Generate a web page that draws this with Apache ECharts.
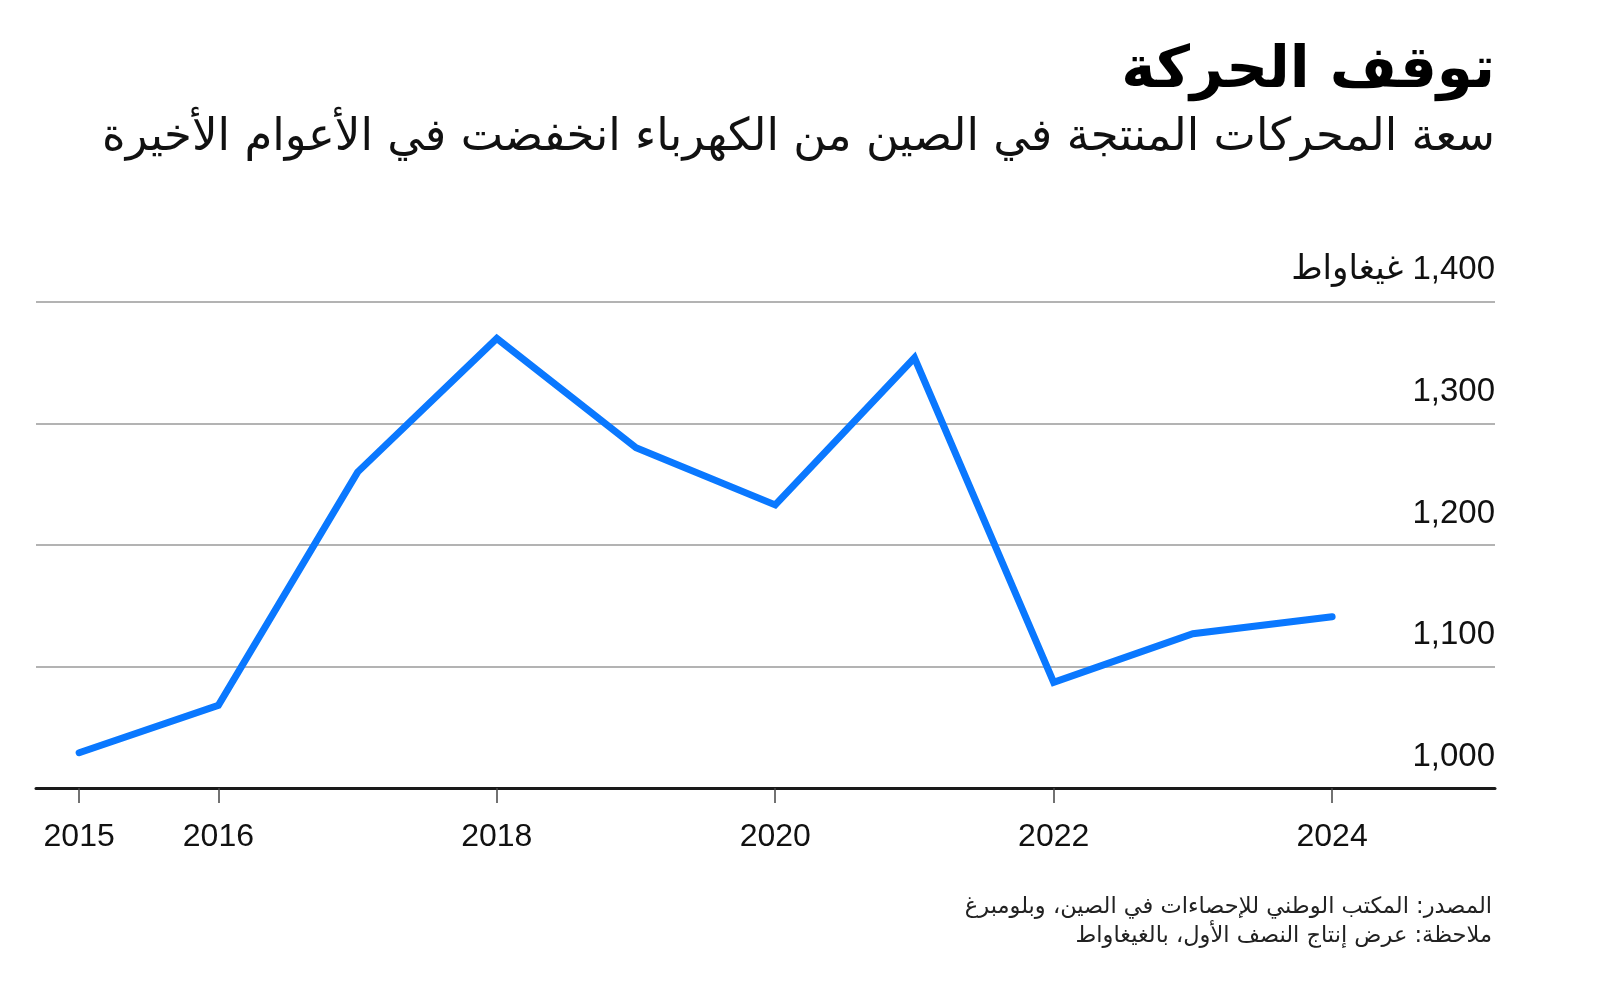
<!DOCTYPE html>
<html>
<head>
<meta charset="utf-8">
<script src="https://cdn.jsdelivr.net/npm/echarts@6/dist/echarts.min.js"></script>
<style>
html,body{margin:0;padding:0;background:#fff;}
#chart{width:1600px;height:1007px;}
</style>
</head>
<body>
<div id="chart"></div>
<script>
const years = [2015, 2016, 2017, 2018, 2019, 2020, 2021, 2022, 2023, 2024];
const capacity = [1029, 1068, 1260, 1370, 1280, 1233, 1354, 1087, 1127, 1141];
const xTickLabels = [2015, 2016, 2018, 2020, 2022, 2024];
const yTickValues = [1000, 1100, 1200, 1300, 1400];
const unitLabel = 'غيغاواط';
const titleText = 'توقف الحركة';
const subtitleText = 'سعة المحركات المنتجة في الصين من الكهرباء انخفضت في الأعوام الأخيرة';
const sourceText = 'المصدر: المكتب الوطني للإحصاءات في الصين، وبلومبرغ';
const noteText = 'ملاحظة: عرض إنتاج النصف الأول، بالغيغاواط';

const arabicFont = '"DejaVu Sans", "Noto Sans", sans-serif';
const numFont = '"Liberation Sans", Arial, sans-serif';

const chart = echarts.init(document.getElementById('chart'));
const fmtNum = v => v.toLocaleString('en-US');

chart.setOption({
  backgroundColor: '#fff',
  animation: false,
  grid: { left: 36, right: 105, top: 302, bottom: 219, containLabel: false },
  xAxis: {
    type: 'value',
    min: 2014.69,
    max: 2025.17,
    splitLine: { show: false },
    axisLine: { show: true, lineStyle: { color: '#1a1a1a', width: 3 } },
    axisTick: { show: true, customValues: xTickLabels, length: 15, lineStyle: { color: '#444', width: 1.5 } },
    axisLabel: {
      customValues: xTickLabels,
      formatter: v => String(v),
      fontSize: 32, color: '#111', fontFamily: numFont, margin: 33
    }
  },
  yAxis: {
    type: 'value',
    position: 'right',
    min: 1000, max: 1400, interval: 100,
    axisLine: { show: false },
    axisTick: { show: false },
    splitLine: { show: true, lineStyle: { color: '#b3b3b3', width: 2 } },
    axisLabel: {
      inside: true,
      margin: 0,
      verticalAlign: 'bottom',
      padding: [0, 0, 15, 0],
      fontSize: 33, color: '#111', fontFamily: numFont,
      formatter: v => v === yTickValues[yTickValues.length - 1] ? '{u|' + unitLabel + '} ' + fmtNum(v) : fmtNum(v),
      rich: { u: { fontSize: 34, fontFamily: arabicFont, color: '#111' } }
    }
  },
  series: [{
    type: 'line',
    data: years.map((y, i) => [y, capacity[i]]),
    symbol: 'none',
    lineStyle: { color: '#0a78ff', width: 7, cap: 'round', join: 'miter' }
  }],
  graphic: [
    { type: 'text', right: 105, top: 43, style: { text: titleText, font: 'bold 58px ' + arabicFont, fill: '#000', textAlign: 'right' } },
    { type: 'text', right: 105, top: 116, style: { text: subtitleText, font: '45px ' + arabicFont, fill: '#111', textAlign: 'right' } },
    { type: 'text', right: 108, top: 896, style: { text: sourceText, font: '22.5px ' + arabicFont, fill: '#222', textAlign: 'right' } },
    { type: 'text', right: 108, top: 925, style: { text: noteText, font: '22.5px ' + arabicFont, fill: '#222', textAlign: 'right' } }
  ]
});
</script>
</body>
</html>
